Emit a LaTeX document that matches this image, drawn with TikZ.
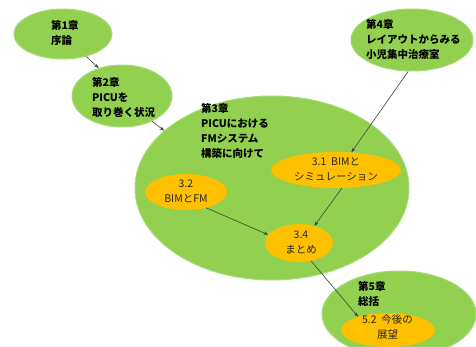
\documentclass[tikz,border=0pt]{standalone}
\usepackage{fontspec}
\setmainfont{Noto Sans CJK JP}
\usetikzlibrary{shapes.geometric,arrows.meta}
\definecolor{lgreen}{HTML}{92D050}
\definecolor{lgreenedge}{HTML}{A8DA78}
\definecolor{lorange}{HTML}{FFC000}
\begin{document}
\begin{tikzpicture}[x=1pt,y=-1pt,
  greenell/.style={ellipse,fill=lgreen,draw=lgreenedge,line width=1pt,inner sep=0pt},
  orangeell/.style={ellipse,fill=lorange,inner sep=0pt},
  chap/.style={anchor=west,align=left,font=\fontsize{10.5}{15}\selectfont\bfseries,inner sep=0pt},
  sect/.style={align=center,font=\fontsize{10.5}{15}\selectfont,text=black!85,inner sep=0pt},
  arr/.style={-{Stealth[length=4.5pt,width=3.5pt]},draw=black!75,line width=0.6pt}]
\fill[white] (0,0) rectangle (476,347);
\useasboundingbox (0,0) rectangle (476,347);
% chapter ellipses
\node[greenell,minimum width=98pt,minimum height=50pt] (n1) at (63,34) {};
\node[greenell,minimum width=100pt,minimum height=62pt] (n2) at (122,96) {};
\node[greenell,minimum width=274pt,minimum height=184pt] (n3) at (272,188) {};
\node[greenell,minimum width=122pt,minimum height=62pt] (n4) at (412,40) {};
\node[greenell,minimum width=154pt,minimum height=86pt] (n5) at (399,314) {};
% section ellipses
\node[orangeell,minimum width=130pt,minimum height=36pt] (n31) at (336,170) {};
\node[orangeell,minimum width=82pt,minimum height=36pt] (n32) at (186,192) {};
\node[orangeell,minimum width=68pt,minimum height=38pt] (n34) at (299,243) {};
\node[orangeell,minimum width=94pt,minimum height=34pt] (n52) at (388,330) {};
% chapter texts
\node[chap] (t1) at (51,32.5) {第1章\\序論};
\node[chap] (t2) at (92,97) {第2章\\PICUを\\取り巻く状況};
\node[chap] (t3) at (201,130.5) {第3章\\PICUにおける\\FMシステム\\構築に向けて};
\node[chap] (t4) at (366,40) {第4章\\レイアウトからみる\\小児集中治療室};
\node[chap] (t5) at (358,293.5) {第5章\\総括};
% section texts
\node[sect] (s31) at (336,169) {3.1\ \ BIMと\\シミュレーション};
\node[sect] (s32) at (186,191) {3.2\\BIMとFM};
\node[sect] (s34) at (301,242) {3.4\\まとめ};
\node[sect] (s52) at (387.5,327.5) {5.2\ \ 今後の\\展望};
% arrows
\draw[arr] (n1.-44) -- (n2.130);
\draw[arr] (n2.-40) -- (n3.152);
\draw[arr] (n4.-97) -- (n31.49);
\draw[arr] (n31.-72) -- (n34.48);
\draw[arr] (n32.-38) -- (n34.165);
\draw[arr] (n34.-56) -- (n52.156);
\end{tikzpicture}
\end{document}
